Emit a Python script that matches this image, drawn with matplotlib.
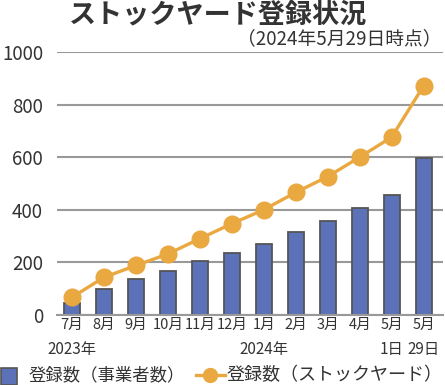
import matplotlib
matplotlib.use("Agg")
import matplotlib.pyplot as plt

plt.rcParams['font.family'] = ['Noto Sans CJK JP', 'DejaVu Sans']

# Data
months = ["7月", "8月", "9月", "10月", "11月", "12月", "1月", "2月", "3月", "4月", "5月", "5月"]
sublabels = {0: "2023年", 6: "2024年", 10: "1日", 11: "29日"}
operators = [47, 98, 135, 167, 206, 236, 271, 316, 358, 407, 457, 596]
yards = [67, 143, 188, 232, 290, 347, 400, 466, 526, 600, 676, 871]

blue = "#5b72b8"
orange = "#e9a840"
txt = "#333333"

fig = plt.figure(figsize=(4.45, 3.85), dpi=100)
ax = fig.add_axes([0.128, 0.182, 0.867, 0.683])

x = list(range(len(months)))
ax.bar(x, operators, width=0.5, color=blue, edgecolor="#555555", linewidth=1.3, zorder=2)
ax.plot(x, yards, color=orange, linewidth=2.4, marker="o", markersize=12, zorder=3)

ax.set_ylim(0, 1000)
ax.set_xlim(-0.47, 11.6)
ax.set_yticks([0, 200, 400, 600, 800, 1000])
ax.yaxis.grid(True, color="#999999", linewidth=1.5, zorder=1)
ax.set_axisbelow(True)
for s in ["top", "right", "left"]:
    ax.spines[s].set_visible(False)
ax.spines["bottom"].set_color("#999999")
ax.spines["bottom"].set_linewidth(1.5)
ax.tick_params(axis="y", length=0, labelsize=13.5, labelcolor=txt, pad=10)
ax.tick_params(axis="x", length=0, labelsize=10.5, labelcolor=txt, pad=2)
ax.set_xticks(x)
ax.set_xticklabels(months)

for i, lab in sublabels.items():
    ax.annotate(lab, xy=(i, 0), xycoords=("data", "axes fraction"),
                xytext=(0, -25), textcoords="offset points",
                ha="center", va="center", fontsize=11, color=txt)

fig.text(0.49, 0.963, "ストックヤード登録状況", ha="center", va="center",
         fontsize=19.5, fontweight="bold", color=txt)
fig.text(0.992, 0.900, "（2024年5月29日時点）", ha="right", va="center",
         fontsize=13.5, color=txt)

# legend drawn in figure coordinates
fig.patches.append(plt.Rectangle((0.003, 0.0), 0.036, 0.045, transform=fig.transFigure,
                                 facecolor=blue, edgecolor="#555555", linewidth=1.2))
fig.text(0.065, 0.025, "登録数（事業者数）", ha="left", va="center", fontsize=12.5, color=txt)
fig.lines.append(plt.Line2D([0.44, 0.472, 0.505], [0.025, 0.025, 0.025],
                            transform=fig.transFigure, color=orange, linewidth=2.4,
                            marker="o", markersize=10, markevery=[1]))
fig.text(0.51, 0.025, "登録数（ストックヤード）", ha="left", va="center", fontsize=13, color=txt)

fig.savefig("out.png", dpi=100)
